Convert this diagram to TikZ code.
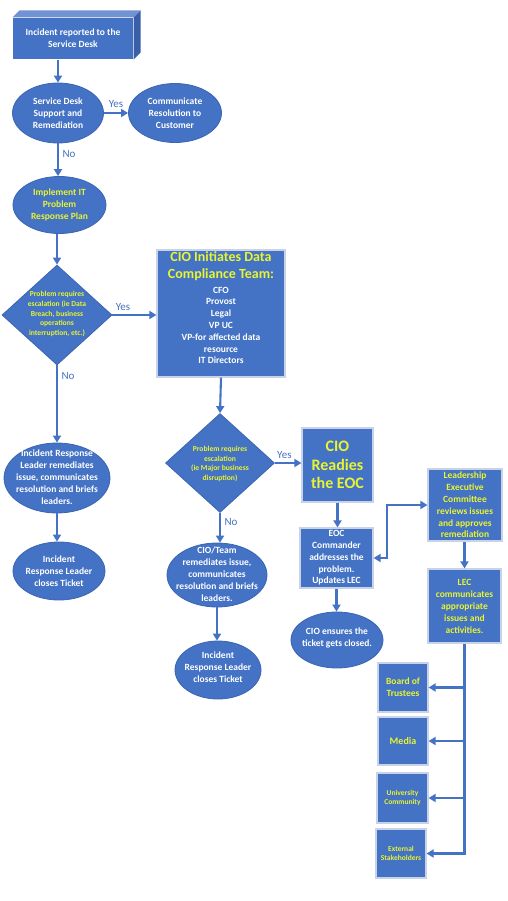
\documentclass[tikz,border=0pt]{standalone}
\usepackage{fontspec}
\setmainfont{Carlito}
\usetikzlibrary{shapes.geometric,arrows.meta,calc}
\definecolor{myblue}{HTML}{4472C4}
\definecolor{edgeblue}{HTML}{3B65B3}
\definecolor{boxedge}{HTML}{C9D3E8}
\definecolor{topface}{HTML}{7193D3}
\definecolor{sideface}{HTML}{3A5FA6}
\definecolor{myyellow}{HTML}{E8F530}
\tikzset{
  ell/.style={ellipse,fill=myblue,draw=edgeblue,line width=0.8bp,inner sep=0pt},
  sbox/.style={rectangle,fill=myblue,draw=boxedge,line width=1.2bp,inner sep=0pt},
  dia/.style={diamond,fill=myblue,draw=edgeblue,line width=0.8bp,inner sep=0pt},
  txt/.style={text=white,align=center,inner sep=0pt,font=\bfseries\fontsize{9.5bp}{12bp}\selectfont},
  ytxt/.style={txt,text=myyellow},
  smalltxt/.style={ytxt,font=\bfseries\fontsize{7.6bp}{9.6bp}\selectfont},
  lbl/.style={text=myblue,inner sep=0pt,font=\fontsize{11bp}{13bp}\selectfont},
  conn/.style={draw=myblue,line width=2.1bp,-{Triangle[length=7bp,width=8bp]}},
  plain/.style={draw=myblue,line width=2.1bp}
}
\begin{document}
\begin{tikzpicture}[x=1bp,y=-1bp]
\useasboundingbox (0,0) rectangle (508,901);
\fill[white] (0,0) rectangle (508,901);

% top 3D box
\node[sbox,draw=none,minimum width=120bp,minimum height=41bp] (inc) at (73,38.5) {};
\fill[topface] (inc.north west) -- ++(7,-7) -- ($(inc.north east)+(7,-7)$) -- (inc.north east) -- cycle;
\fill[sideface] (inc.north east) -- ++(7,-7) -- ($(inc.south east)+(7,-7)$) -- (inc.south east) -- cycle;
\node[txt] (inc-t) at (inc) {Incident reported to the\\Service Desk};

% left column
\node[ell,minimum width=91bp,minimum height=60bp] (sd) at (58,113) {};
\node[txt] (sd-t) at (sd) {Service Desk\\Support and\\Remediation};
\node[ell,minimum width=93bp,minimum height=59bp] (cr) at (175,113) {};
\node[txt] (cr-t) at (cr) {Communicate\\Resolution to\\Customer};
\node[ell,minimum width=93bp,minimum height=57bp] (imp) at (59.5,205) {};
\node[ytxt] (imp-t) at (imp) {Implement IT\\Problem\\Response Plan};
\node[dia,minimum width=110bp,minimum height=100bp] (d1) at (57,315) {};
\node[smalltxt] (d1-t) at (57,314) {Problem requires\\escalation (ie Data\\Breach, business\\operations\\interruption, etc.)};
\node[ell,minimum width=106bp,minimum height=70bp] (ir) at (57,478) {};
\node[txt] (ir-t) at (57,477) {Incident Response\\Leader remediates\\issue, communicates\\resolution and briefs\\leaders.};
\node[ell,minimum width=92bp,minimum height=58bp] (irc) at (59,571) {};
\node[txt] (irc-t) at (irc) {Incident\\Response Leader\\closes Ticket};

% middle column
\node[sbox,minimum width=128bp,minimum height=127bp] (cdt) at (221,313.5) {};
\node[ytxt,font=\bfseries\fontsize{14bp}{17.5bp}\selectfont] (cdt-h) at (221,266) {CIO Initiates Data\\Compliance Team:};
\node[txt,font=\bfseries\fontsize{9.5bp}{11.8bp}\selectfont] (cdt-m) at (221,325.5) {CFO\\Provost\\Legal\\VP UC\\VP-for affected data\\resource\\IT Directors};
\node[dia,minimum width=109bp,minimum height=99bp] (d2) at (220,463) {};
\node[smalltxt] (d2-t) at (220,464) {Problem requires\\escalation\\(ie Major business\\disruption)};
\node[ell,minimum width=100bp,minimum height=64bp] (team) at (217,575) {};
\node[txt] (team-t) at (217,574) {CIO/Team\\remediates issue,\\communicates\\resolution and briefs\\leaders.};
\node[ell,minimum width=86bp,minimum height=58bp] (tc) at (218,670) {};
\node[txt] (tc-t) at (218,667) {Incident\\Response Leader\\closes Ticket};

% EOC column
\node[lbl,anchor=west] (y3) at (277,455) {Yes};
\node[sbox,minimum width=71bp,minimum height=74bp] (eoc) at (337.5,465) {};
\node[ytxt,font=\bfseries\fontsize{16bp}{18.5bp}\selectfont] (eoc-t) at (eoc) {CIO\\Readies\\the EOC};
\node[sbox,minimum width=73bp,minimum height=60bp] (cmd) at (336.5,558) {};
\node[txt,font=\bfseries\fontsize{9.5bp}{11.8bp}\selectfont] (cmd-t) at (cmd) {EOC\\Commander\\addresses the\\problem.\\Updates LEC};
\node[ell,minimum width=92bp,minimum height=56bp] (cls) at (337,640) {};
\node[txt] (cls-t) at (337,638) {CIO ensures the\\ticket gets closed.};

% right column
\node[sbox,minimum width=74bp,minimum height=72bp] (lead) at (465,505) {};
\node[ytxt,font=\bfseries\fontsize{9.5bp}{11.8bp}\selectfont] (lead-t) at (lead) {Leadership\\Executive\\Committee\\reviews issues\\and approves\\remediation};
\node[sbox,minimum width=73bp,minimum height=74bp] (lec) at (464.5,606) {};
\node[ytxt] (lec-t) at (lec) {LEC\\communicates\\appropriate\\issues and\\activities.};
\node[sbox,minimum width=50bp,minimum height=49bp] (bot) at (403,687.5) {};
\node[ytxt] (bot-t) at (bot) {Board of\\Trustees};
\node[sbox,minimum width=50bp,minimum height=48bp] (med) at (403,741) {};
\node[ytxt,font=\bfseries\fontsize{10bp}{12bp}\selectfont] (med-t) at (med) {Media};
\node[sbox,minimum width=51bp,minimum height=50bp] (uc) at (402.5,798) {};
\node[ytxt,font=\bfseries\fontsize{7.5bp}{9.5bp}\selectfont] (uc-t) at (uc) {University\\Community};
\node[sbox,minimum width=50bp,minimum height=49bp] (ext) at (401,853.5) {};
\node[ytxt,font=\bfseries\fontsize{7.5bp}{9.5bp}\selectfont] (ext-t) at (ext) {External\\Stakeholders};

% labels
\node[lbl] (y1) at (116,104) {Yes};
\node[lbl] (n1) at (69,154) {No};
\node[lbl] (y2) at (123,307) {Yes};
\node[lbl] (n2) at (68,376) {No};
\node[lbl] (n3) at (231,522) {No};

% connectors
\draw[conn] (sd.north |- inc.south) -- (sd.north);
\draw[conn] (sd.east) -- (cr.west);
\draw[conn] (sd.south) -- (sd.south |- imp.north);
\draw[conn] (imp.south -| d1.north) -- (d1.north);
\draw[conn] (d1.east) -- (d1.east -| cdt.west);
\draw[conn] (d1.south) -- (ir.north);
\draw[conn] (ir.south) -- (ir.south |- irc.north);
\draw[conn] (cdt.south) -- (d2.north);
\draw[conn] (d2.east) -- (d2.east -| eoc.west);
\draw[conn] (d2.south) -- (d2.south |- team.north);
\draw[conn] (team.south) -- (team.south |- tc.north);
\draw[conn] (eoc.south) -- (eoc.south |- cmd.north);
\draw[conn] (cmd.south) -- (cmd.south |- cls.north);
\draw[conn,{Triangle[length=7bp,width=8bp]}-{Triangle[length=7bp,width=8bp]}] (cmd.east) -- ++(13.5,0) |- (lead.west);
\draw[conn] (lead.south -| lec.north) -- (lec.north);
\draw[conn] (lec.south) |- (ext.east);
\draw[conn] (lec.south |- bot.east) -- (bot.east);
\draw[conn] (lec.south |- med.east) -- (med.east);
\draw[conn] (lec.south |- uc.east) -- (uc.east);
\end{tikzpicture}
\end{document}
